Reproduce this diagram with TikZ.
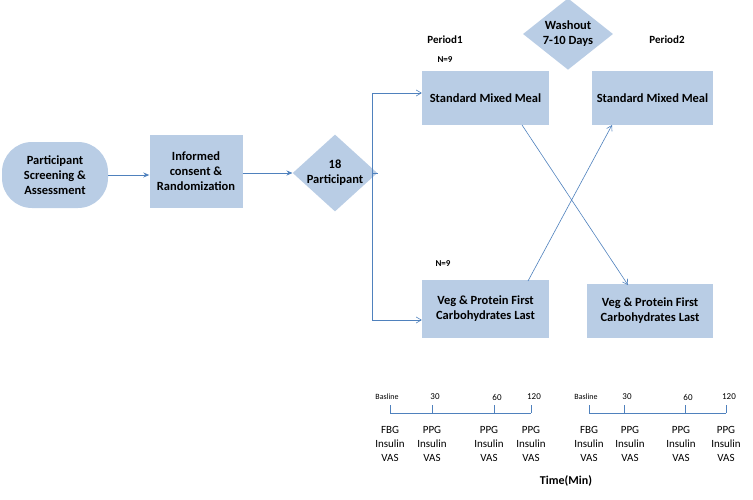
\documentclass[tikz,border=0pt]{standalone}
\usepackage{fontspec}
\setmainfont{Carlito}
\usetikzlibrary{shapes.geometric,arrows.meta}
\definecolor{bfill}{HTML}{B9CDE5}
\definecolor{bline}{HTML}{4F81BD}
\tikzset{
 box/.style={fill=bfill,draw=none,align=center,font=\fontsize{12.5}{15}\selectfont\bfseries,inner sep=0pt},
 dia/.style={diamond,fill=bfill,draw=none,align=center,font=\fontsize{12.5}{15}\selectfont\bfseries,inner sep=0pt,aspect=1.1},
 conn/.style={draw=bline,line width=0.8pt,-{Stealth[length=6pt,width=5pt]}},
 thin/.style={draw=bline,line width=0.6pt,-{Straight Barb[length=5pt,width=6pt]}},
 lbl/.style={font=\fontsize{9}{10}\selectfont},
 mlbl/.style={font=\fontsize{11}{14}\selectfont,align=center},
 tick/.style={draw=bline,line width=0.8pt}
}
\begin{document}
\begin{tikzpicture}[x=1pt,y=-1pt]
\useasboundingbox (0,0) rectangle (753,499);
\node[box,rounded corners=30pt,minimum width=106pt,minimum height=66pt] (scr) at (55,175) {Participant\\Screening \&\\Assessment};
\node[box,minimum width=93pt,minimum height=73pt] (inf) at (196,171) {Informed\\consent \&\\Randomization};
\node[dia,minimum width=80pt,minimum height=74pt] (p18) at (335,173) {18\\Participant};
\node[box,minimum width=127pt,minimum height=54pt] (s1) at (485.5,98) {Standard Mixed Meal};
\node[box,minimum width=121pt,minimum height=54pt] (s2) at (652.5,98) {Standard Mixed Meal};
\node[box,minimum width=127pt,minimum height=58pt] (v1) at (485.5,309) {Veg \& Protein First\\Carbohydrates Last};
\node[box,minimum width=126pt,minimum height=54pt] (v2) at (650,311) {Veg \& Protein First\\Carbohydrates Last};
\node[dia,minimum width=90pt,minimum height=68pt] (wo) at (568,34) {Washout\\7-10 Days};
\node[font=\fontsize{11}{13}\selectfont\bfseries] (pe1) at (445,40) {Period1};
\node[font=\fontsize{11}{13}\selectfont\bfseries] (pe2) at (667,40) {Period2};
\node[font=\fontsize{9}{10}\selectfont\bfseries] (n1) at (445,60) {N=9};
\node[font=\fontsize{9}{10}\selectfont\bfseries] (n2) at (443,264) {N=9};
\draw[conn] (scr.east) -- (scr.east -| inf.west);
\draw[conn] (inf.east |- p18.west) -- (p18.west);
\coordinate (vt) at (372,93);
\coordinate (vb) at (372,320);
\draw[draw=bline,line width=0.6pt] (p18.east) -- (372,173);
\draw[thin] (372,173) -- (vt) -- (s1.west |- vt);
\draw[thin] (372,173) -- (vb) -- (v1.west |- vb);
\draw[thin] (522,125) -- (628,285);
\draw[thin] (528,281) -- (612,125);
% timelines
\draw[tick] (390,413) -- (531,413);
\draw[tick] (589,413) -- (726,413);
\foreach \x in {390,432,494,531,589,624,685,726}{
  \draw[tick] (\x,405) -- (\x,413);
}
\foreach \x [count=\i] in {390,589}{
  \node[font=\fontsize{8}{9}\selectfont] (tb\i) at (\x-3,397) {Basline};
}
\foreach \x/\t [count=\i] in {432/30,494/60,531/120,624/30,685/60,726/120}{
  \node[lbl] (tn\i) at (\x+3,397) {\t};
}
\node[mlbl] (m1) at (390,444) {FBG\\Insulin\\VAS};
\node[mlbl] (m2) at (432,444) {PPG\\Insulin\\VAS};
\node[mlbl] (m3) at (489,444) {PPG\\Insulin\\VAS};
\node[mlbl] (m4) at (531,444) {PPG\\Insulin\\VAS};
\node[mlbl] (m5) at (589,444) {FBG\\Insulin\\VAS};
\node[mlbl] (m6) at (630,444) {PPG\\Insulin\\VAS};
\node[mlbl] (m7) at (681,444) {PPG\\Insulin\\VAS};
\node[mlbl] (m8) at (726,444) {PPG\\Insulin\\VAS};
\node[font=\fontsize{12}{14}\selectfont\bfseries] (tm) at (566,481) {Time(Min)};
\end{tikzpicture}
\end{document}
